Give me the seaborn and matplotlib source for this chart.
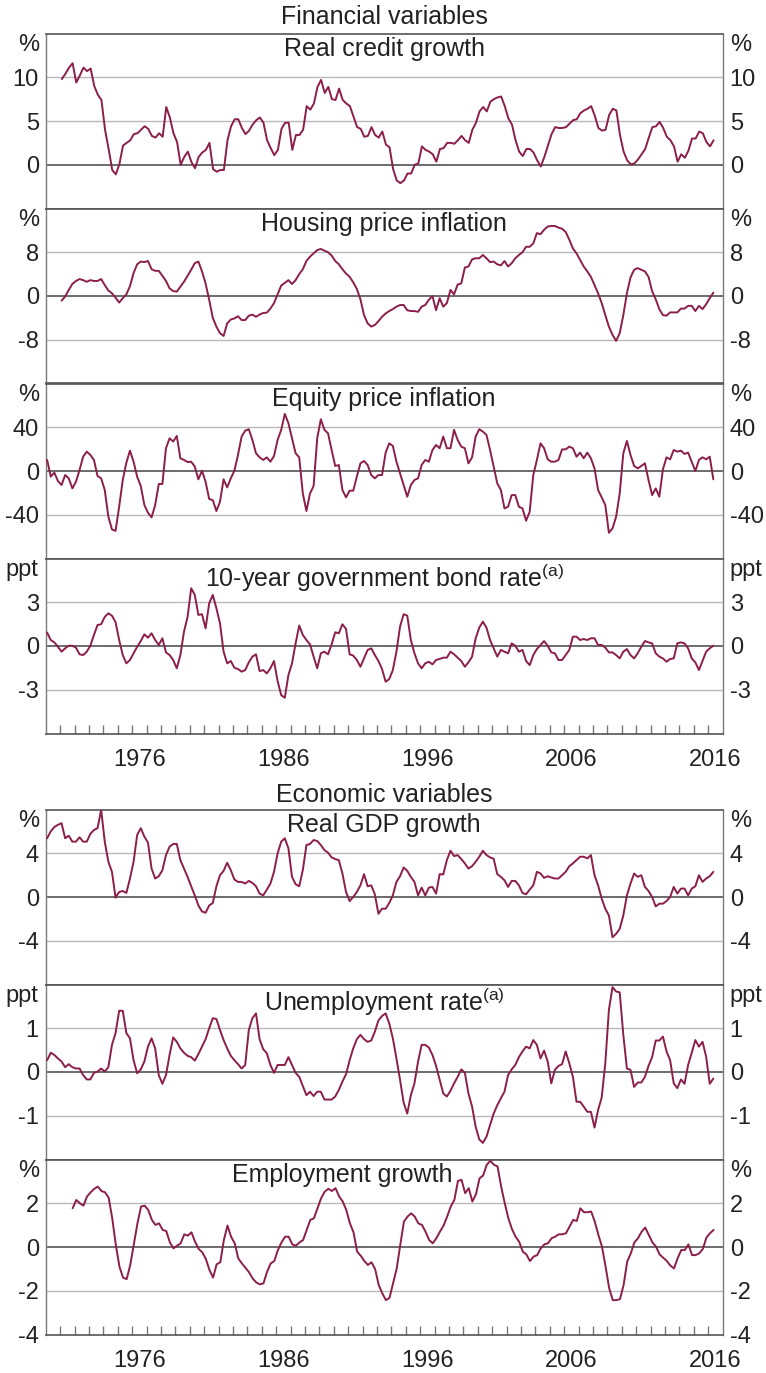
import matplotlib
matplotlib.use("Agg")
import matplotlib.pyplot as plt
import numpy as np
import pandas as pd
import seaborn as sns

LINE = "#8c1e4b"

# quarterly series
credit = [9.8, 10.4, 11.1, 11.6, 9.4, 10.2, 11.1, 10.7, 11.0, 9.0,
          8.0, 7.4, 4.0, 1.8, -0.6, -1.1, 0.1, 2.2, 2.5, 2.8,
          3.5, 3.6, 4.0, 4.4, 4.1, 3.3, 3.1, 3.6, 3.2, 6.6,
          5.4, 3.6, 2.6, 0.0, 0.9, 1.5, 0.3, -0.4, 0.9, 1.4,
          1.7, 2.5, -0.5, -0.8, -0.6, -0.6, 2.8, 4.4, 5.2, 5.2,
          4.2, 3.5, 3.9, 4.6, 5.1, 5.4, 4.8, 2.8, 1.9, 1.1,
          1.7, 4.1, 4.8, 4.8, 1.7, 3.4, 3.4, 4.0, 6.7, 6.3,
          7.0, 8.9, 9.7, 8.2, 8.9, 7.5, 7.4, 8.7, 7.4, 7.0,
          6.7, 5.5, 4.3, 4.1, 3.2, 3.3, 4.3, 3.4, 3.1, 3.8,
          2.3, 2.0, -0.5, -1.8, -2.1, -1.8, -1.0, -1.0, 0.0, 0.15,
          2.1, 1.7, 1.5, 1.2, 0.35, 1.8, 1.9, 2.5, 2.5, 2.4,
          2.8, 3.3, 2.8, 2.5, 4.0, 4.8, 6.1, 6.6, 6.1, 7.2,
          7.5, 7.7, 7.8, 6.7, 5.3, 4.6, 2.8, 1.5, 1.0, 1.8,
          1.8, 1.4, 0.5, -0.2, 0.9, 2.2, 3.5, 4.3, 4.2, 4.2,
          4.3, 4.7, 5.1, 5.2, 5.9, 6.2, 6.4, 6.7, 5.6, 4.2,
          3.9, 4.0, 5.7, 6.4, 6.2, 3.4, 1.5, 0.5, 0.05, 0.15,
          0.6, 1.2, 1.8, 3.1, 4.3, 4.4, 4.9, 4.2, 3.2, 2.8,
          2.1, 0.35, 1.2, 0.8, 1.6, 3.0, 3.0, 3.8, 3.6, 2.6,
          2.1, 2.8]

housing = [-0.85, -0.1, 1.1, 2.2, 2.75, 3.1, 2.9, 2.6, 2.9, 2.75,
           2.75, 3.1, 2.0, 1.0, 0.5, -0.3, -1.2, -0.4, 0.3, 1.8,
           4.2, 5.8, 6.3, 6.2, 6.4, 4.9, 4.6, 4.6, 3.7, 2.75,
           1.4, 0.9, 0.8, 1.7, 2.6, 3.7, 4.8, 6.0, 6.3, 4.5,
           2.3, -0.7, -4.0, -5.6, -6.8, -7.3, -5.0, -4.3, -4.1, -3.7,
           -4.4, -4.4, -3.6, -3.4, -3.8, -3.4, -3.1, -3.05, -2.3, -1.3,
           0.3, 1.9, 2.4, 2.9, 2.2, 2.9, 4.0, 4.9, 6.4, 7.2,
           7.8, 8.4, 8.6, 8.3, 8.0, 7.4, 6.4, 5.8, 4.9, 4.1,
           3.5, 2.5, 1.3, -0.6, -3.5, -5.0, -5.6, -5.3, -4.6, -3.8,
           -3.2, -2.75, -2.4, -1.95, -1.65, -1.65, -2.6, -2.75, -2.75, -2.9,
           -1.95, -1.65, -0.7, 0.0, -2.6, -0.4, -1.95, -1.3, 1.1, 0.3,
           2.1, 2.3, 5.2, 5.4, 6.7, 6.9, 6.9, 7.5, 6.9, 6.2,
           6.3, 5.8, 5.6, 6.4, 5.4, 6.0, 6.9, 7.5, 8.0, 9.0,
           9.0, 9.6, 11.5, 11.3, 12.1, 12.7, 12.8, 12.8, 12.5, 12.3,
           11.7, 10.3, 8.7, 7.8, 6.6, 5.4, 4.5, 3.5, 2.0, 0.5,
           -1.3, -3.5, -5.6, -7.1, -8.2, -6.8, -3.5, 0.5, 3.4, 4.8,
           5.1, 4.8, 4.5, 3.5, 0.9, -0.6, -2.4, -3.5, -3.6, -3.0,
           -3.0, -3.0, -2.3, -2.3, -1.8, -1.8, -2.75, -1.8, -2.4, -1.5,
           -0.4, 0.6]

equity = [10.1, -5.2, -1.5, -9.2, -12.8, -3.7, -6.7, -15.9, -9.8, 0.9,
          13.1, 17.7, 14.7, 10.1, -4.6, -6.7, -17.4, -41.8, -53.4, -54.7,
          -32.7, -8.2, 7.6, 18.6, 8.5, -5.2, -13.7, -31.1, -38.2, -42.4,
          -31.1, -11.9, -11.9, 20.8, 29.9, 26.9, 32.1, 11.6, 10.1, 8.2,
          8.5, 4.0, -7.6, 0.3, -9.8, -25.6, -26.6, -36.6, -28.1, -7.6,
          -15.0, -6.7, 0.3, 14.7, 31.5, 36.9, 38.2, 28.4, 16.2, 12.5,
          10.1, 12.5, 8.5, 13.7, 28.4, 37.6, 52.2, 43.7, 29.9, 16.2,
          12.5, -20.5, -36.6, -20.5, -13.7, 29.9, 47.3, 37.6, 34.5, 19.2,
          4.6, 5.5, -17.4, -24.1, -18.0, -18.0, -5.2, 7.0, 9.2, 5.5,
          -3.7, -6.7, -3.7, -3.7, 16.8, 25.3, 22.9, 8.5, -2.1, -12.8,
          -23.5, -12.8, -8.2, -6.7, 5.5, 10.1, 8.5, 19.2, 23.8, 20.8,
          31.5, 20.8, 20.8, 37.6, 28.4, 22.3, 20.8, 7.0, 12.5, 31.5,
          38.2, 36.0, 33.0, 19.2, 4.0, -11.3, -17.4, -34.2, -32.7, -22.0,
          -22.0, -32.7, -34.2, -45.5, -37.3, -3.7, 10.1, 25.3, 20.8, 10.7,
          8.5, 8.5, 10.1, 19.8, 19.8, 22.3, 20.8, 13.1, 16.8, 11.6,
          16.8, 11.6, 2.4, -17.4, -24.1, -31.1, -56.5, -52.5, -41.8, -20.5,
          16.2, 27.5, 14.7, 4.6, 2.4, 4.6, 7.0, -8.2, -22.0, -15.9,
          -23.5, 1.5, 12.5, 10.7, 19.2, 17.7, 18.6, 15.6, 16.8, 8.5,
          0.0, 10.1, 12.5, 10.7, 13.1, -7.6]

bond = [0.92, 0.41, 0.25, -0.05, -0.39, -0.16, 0.02, 0.02, -0.11, -0.57,
        -0.62, -0.39, 0.02, 0.76, 1.44, 1.49, 2.0, 2.24, 2.08, 1.63,
        0.41, -0.62, -1.19, -0.96, -0.5, -0.05, 0.34, 0.8, 0.57, 0.87,
        0.41, 0.07, 0.53, -0.44, -0.62, -0.96, -1.53, -0.62, 0.98, 2.0,
        3.96, 3.5, 2.13, 2.18, 1.21, 2.93, 3.5, 2.59, 1.56, -0.39,
        -1.19, -1.03, -1.49, -1.58, -1.76, -1.65, -1.12, -0.73, -0.57, -1.72,
        -1.65, -1.88, -1.53, -1.03, -2.4, -3.37, -3.55, -1.99, -1.19, 0.18,
        1.4, 0.76, 0.41, 0.11, -0.73, -1.53, -0.5, -0.39, -0.57, 0.11,
        0.94, 0.87, 1.49, 1.17, -0.57, -0.66, -0.96, -1.42, -0.85, -0.27,
        -0.16, -0.62, -1.03, -1.58, -2.45, -2.27, -1.65, -0.39, 1.33, 2.18,
        2.08, 0.41, -0.5, -1.19, -1.53, -1.19, -1.08, -1.26, -0.96, -0.89,
        -0.8, -0.8, -0.39, -0.57, -0.8, -1.03, -1.42, -1.12, -0.73, 0.53,
        1.26, 1.67, 1.26, 0.41, -0.16, -0.73, -0.27, -0.39, -0.5, 0.18,
        0.02, -0.39, -0.27, -1.03, -1.31, -0.62, -0.21, 0.07, 0.34, 0.02,
        -0.44, -0.5, -0.96, -0.96, -0.62, -0.27, 0.64, 0.64, 0.41, 0.48,
        0.41, 0.53, 0.53, 0.07, 0.07, -0.11, -0.44, -0.44, -0.62, -0.85,
        -0.39, -0.21, -0.62, -0.85, -0.5, -0.05, 0.34, 0.25, 0.18, -0.5,
        -0.73, -0.85, -1.08, -0.89, -0.85, 0.18, 0.25, 0.18, -0.16, -0.85,
        -1.12, -1.65, -1.03, -0.39, -0.16, 0.02]

gdp = [5.37, 6.0, 6.4, 6.6, 6.75, 5.37, 5.6, 5.06, 5.06, 5.46,
       5.06, 5.06, 5.77, 6.13, 6.29, 7.98, 5.06, 3.22, 2.3, -0.06,
       0.46, 0.55, 0.37, 1.69, 3.22, 5.67, 6.29, 5.52, 4.97, 2.6,
       1.69, 1.9, 2.45, 3.83, 4.6, 4.85, 4.85, 3.37, 2.6, 1.84,
       0.98, 0.15, -0.77, -1.32, -1.44, -0.77, -0.55, 0.98, 1.99, 2.39,
       3.13, 2.45, 1.6, 1.38, 1.38, 1.23, 1.47, 1.29, 0.98, 0.31,
       0.15, 0.67, 1.23, 2.3, 3.99, 5.06, 5.37, 4.45, 1.84, 1.17,
       0.98, 2.45, 4.75, 4.85, 5.21, 5.12, 4.75, 4.29, 4.05, 3.62,
       3.47, 3.37, 2.15, 0.46, -0.37, 0.0, 0.46, 1.07, 2.09, 0.98,
       1.07, 0.25, -1.53, -1.07, -1.07, -0.55, 0.15, 1.38, 1.9, 2.7,
       2.39, 1.84, 1.38, 0.15, 0.86, 0.15, 0.86, 0.92, 0.31, 2.09,
       2.06, 3.37, 4.23, 3.74, 3.83, 3.47, 3.07, 2.6, 2.82, 3.22,
       3.68, 4.23, 3.83, 3.62, 3.5, 2.09, 1.84, 1.53, 0.92, 1.47,
       1.47, 1.07, 0.37, 0.25, 0.67, 1.07, 2.3, 2.15, 1.75, 1.9,
       1.78, 1.69, 1.69, 1.99, 2.3, 2.82, 3.07, 3.37, 3.68, 3.68,
       3.53, 3.83, 1.99, 1.07, -0.15, -1.07, -1.69, -3.68, -3.37, -2.91,
       -1.69, 0.15, 1.23, 2.15, 1.84, 1.99, 0.92, 0.55, 0.0, -0.86,
       -0.61, -0.61, -0.37, 0.0, 0.92, 0.31, 0.77, 0.77, 0.15, 0.77,
       0.98, 1.99, 1.38, 1.69, 1.9, 2.3]

unemployment = [0.27, 0.44, 0.39, 0.31, 0.24, 0.11, 0.18, 0.11, 0.08, 0.08,
                -0.07, -0.17, -0.17, -0.02, 0.01, 0.08, 0.01, 0.11, 0.62, 0.89,
                1.40, 1.40, 0.89, 0.77, 0.27, -0.03, 0.06, 0.24, 0.58, 0.77,
                0.54, -0.07, -0.27, -0.07, 0.39, 0.79, 0.69, 0.54, 0.44, 0.37,
                0.34, 0.26, 0.41, 0.58, 0.75, 1.0, 1.23, 1.21, 0.96, 0.73,
                0.54, 0.37, 0.27, 0.18, 0.08, 0.16, 0.96, 1.23, 1.34, 0.75,
                0.52, 0.43, 0.16, -0.02, 0.16, 0.16, 0.16, 0.34, 0.16, -0.02,
                -0.11, -0.32, -0.53, -0.45, -0.55, -0.45, -0.45, -0.63, -0.63, -0.63,
                -0.56, -0.41, -0.22, -0.05, 0.27, 0.54, 0.75, 0.85, 0.75, 0.69,
                0.72, 0.92, 1.18, 1.28, 1.34, 1.11, 0.77, 0.31, -0.18, -0.70,
                -0.95, -0.53, -0.26, 0.24, 0.62, 0.62, 0.56, 0.39, 0.14, -0.18,
                -0.49, -0.56, -0.43, -0.26, -0.11, 0.06, -0.02, -0.49, -0.79, -1.25,
                -1.54, -1.62, -1.48, -1.21, -0.95, -0.76, -0.60, -0.45, -0.07, 0.06,
                0.16, 0.34, 0.47, 0.58, 0.54, 0.73, 0.62, 0.31, 0.49, 0.24,
                -0.26, 0.05, 0.14, 0.18, 0.47, 0.20, -0.11, -0.68, -0.68, -0.79,
                -0.91, -0.91, -1.27, -0.87, -0.58, 0.20, 1.42, 1.94, 1.84, 1.82,
                0.85, 0.08, 0.05, -0.34, -0.24, -0.24, -0.11, 0.14, 0.34, 0.72,
                0.72, 0.81, 0.47, 0.27, -0.26, -0.37, -0.17, -0.27, 0.16, 0.44,
                0.73, 0.58, 0.69, 0.35, -0.27, -0.15]

employment = [1.77, 2.15, 2.0, 1.89, 2.31, 2.5, 2.66, 2.76, 2.56, 2.5,
              2.26, 1.31, 0.09, -0.9, -1.40, -1.47, -0.82, 0.12, 1.08, 1.85,
              1.89, 1.69, 1.24, 1.01, 1.08, 0.78, 0.73, 0.21, -0.06, 0.06,
              0.17, 0.58, 0.52, 0.67, 0.24, -0.09, -0.24, -0.55, -1.05, -1.40,
              -0.79, -0.70, 0.32, 0.98, 0.47, 0.17, -0.52, -0.75, -0.95, -1.16,
              -1.44, -1.62, -1.71, -1.66, -1.13, -0.75, -0.64, -0.14, 0.21, 0.47,
              0.47, 0.12, 0.06, 0.21, 0.32, 0.78, 1.24, 1.31, 1.77, 2.23,
              2.53, 2.66, 2.56, 2.69, 2.31, 2.08, 1.69, 1.08, 0.67, -0.21,
              -0.40, -0.64, -0.82, -0.70, -1.01, -1.74, -2.12, -2.43, -2.32, -1.66,
              -0.98, 0.12, 1.16, 1.39, 1.54, 1.39, 1.08, 1.01, 0.70, 0.32,
              0.17, 0.40, 0.70, 0.98, 1.39, 1.85, 2.15, 3.02, 3.07, 2.46,
              2.69, 2.08, 2.41, 3.14, 3.27, 3.76, 3.94, 3.76, 3.68, 2.76,
              2.0, 1.31, 0.82, 0.47, 0.24, -0.21, -0.34, -0.64, -0.44, -0.37,
              -0.06, 0.12, 0.17, 0.40, 0.47, 0.58, 0.58, 0.63, 0.93, 1.24,
              1.19, 1.77, 1.59, 1.59, 1.62, 1.16, 0.55, 0.02, -0.90, -1.89,
              -2.43, -2.43, -2.38, -1.74, -0.67, -0.29, 0.21, 0.40, 0.70, 0.89,
              0.55, 0.21, 0.02, -0.34, -0.49, -0.64, -0.85, -0.98, -0.52, -0.14,
              -0.14, 0.12, -0.37, -0.37, -0.29, -0.09, 0.43, 0.63, 0.78]

# first observation of each series (decimal year)
starts = {"credit": 1971.12, "housing": 1971.1, "equity": 1970.1, "bond": 1970.1,
          "gdp": 1970.1, "unemployment": 1970.1, "employment": 1971.87}

titles = ["Real credit growth", "Housing price inflation", "Equity price inflation",
          r"10-year government bond rate$^{\rm (a)}$", "Real GDP growth",
          r"Unemployment rate$^{\rm (a)}$", "Employment growth"]
units = ["%", "%", "%", "ppt", "%", "ppt", "%"]
ylims = [(-5, 15), (-16, 16), (-80, 80), (-6, 6), (-8, 8), (-2, 2), (-4, 4)]
yticks = [[0, 5, 10], [-8, 0, 8], [-40, 0, 40], [-3, 0, 3], [-4, 0, 4], [-1, 0, 1], [-4, -2, 0, 2]]
series = [("credit", credit), ("housing", housing), ("equity", equity), ("bond", bond),
          ("gdp", gdp), ("unemployment", unemployment), ("employment", employment)]
label_years = [1976, 1986, 1996, 2006, 2016]

W, H = 766, 1373
AX_L, AX_R = 45.7, 722.7
PANEL_H = 175
panel_tops = [33.5, 208.5, 383.5, 558.5, 809.5, 984.5, 1159.5]
title_base = [22.5, 22.5, 22.5, 28.5, 22.5, 26.5, 22.5]
title_x = [0.5, 0.5, 0.5, 0.5, 0.5, 0.5, 0.438]

sns.set_theme(style="white")
plt.rcParams["font.family"] = ["Liberation Sans", "DejaVu Sans"]
plt.rcParams["mathtext.fontset"] = "custom"
plt.rcParams["mathtext.rm"] = "Liberation Sans"
plt.rcParams["text.color"] = "#222222"

FS = 17
FS_TITLE = 18
fig = plt.figure(figsize=(W / 100, H / 100), dpi=100)
fig.patch.set_facecolor("white")

for i, (key, values) in enumerate(series):
    top = panel_tops[i]
    ax = fig.add_axes([AX_L / W, 1 - (top + PANEL_H) / H, (AX_R - AX_L) / W, PANEL_H / H])
    dates = starts[key] + 0.25 * np.arange(len(values))
    df = pd.DataFrame({"date": dates, "value": values})

    for v in yticks[i]:
        if v == ylims[i][0]:
            continue
        if v == 0:
            ax.axhline(0, color="#444444", lw=1.1, zorder=1)
        else:
            ax.axhline(v, color="#b9b9b9", lw=1.0, zorder=1)

    sns.lineplot(data=df, x="date", y="value", ax=ax, color=LINE, linewidth=1.4, zorder=3)
    ax.set_xlim(1970, 2017)
    ax.set_ylim(*ylims[i])
    ax.set_xlabel("")
    ax.set_ylabel("")

    ax.set_yticks(yticks[i])
    ax.set_yticklabels([f"{v:g}" for v in yticks[i]])
    ax.tick_params(axis="y", length=0, pad=5, labelsize=FS, labelleft=True,
                   labelright=True, left=False, right=False, colors="#222222")

    for side in ["left", "right"]:
        ax.spines[side].set_color("#7a7a7a")
        ax.spines[side].set_linewidth(1.0)
    for side in ["top", "bottom"]:
        ax.spines[side].set_color("#555555")
        ax.spines[side].set_linewidth(1.2)

    if i in (3, 6):
        ax.set_xticks(np.arange(1971, 2017))
        ax.set_xticklabels([])
        ax.set_xticks([y + 0.5 for y in label_years], minor=True)
        ax.set_xticklabels([str(y) for y in label_years], minor=True)
        ax.tick_params(axis="x", which="major", direction="in", length=6.5, width=1.0,
                       color="#777777", bottom=True, top=False)
        ax.tick_params(axis="x", which="minor", length=0, pad=11, labelsize=FS,
                       bottom=True, colors="#222222")
    else:
        ax.set_xticks([])

    ax.annotate(units[i], xy=(0, 1), xycoords="axes fraction", xytext=(-5, -8.5),
                textcoords="offset points", ha="right", va="center", fontsize=FS)
    ax.annotate(units[i], xy=(1, 1), xycoords="axes fraction", xytext=(5, -8.5),
                textcoords="offset points", ha="left", va="center", fontsize=FS)
    ax.text(title_x[i], 1 - title_base[i] / PANEL_H, titles[i], transform=ax.transAxes,
            ha="center", va="baseline", fontsize=FS_TITLE)

cx = (AX_L + AX_R) / 2 / W
fig.text(cx, 1 - 17 / H, "Financial variables", ha="center", va="center", fontsize=FS_TITLE)
fig.text(cx, 1 - 795 / H, "Economic variables", ha="center", va="center", fontsize=FS_TITLE)

fig.savefig("out.png", dpi=100, facecolor="white")
